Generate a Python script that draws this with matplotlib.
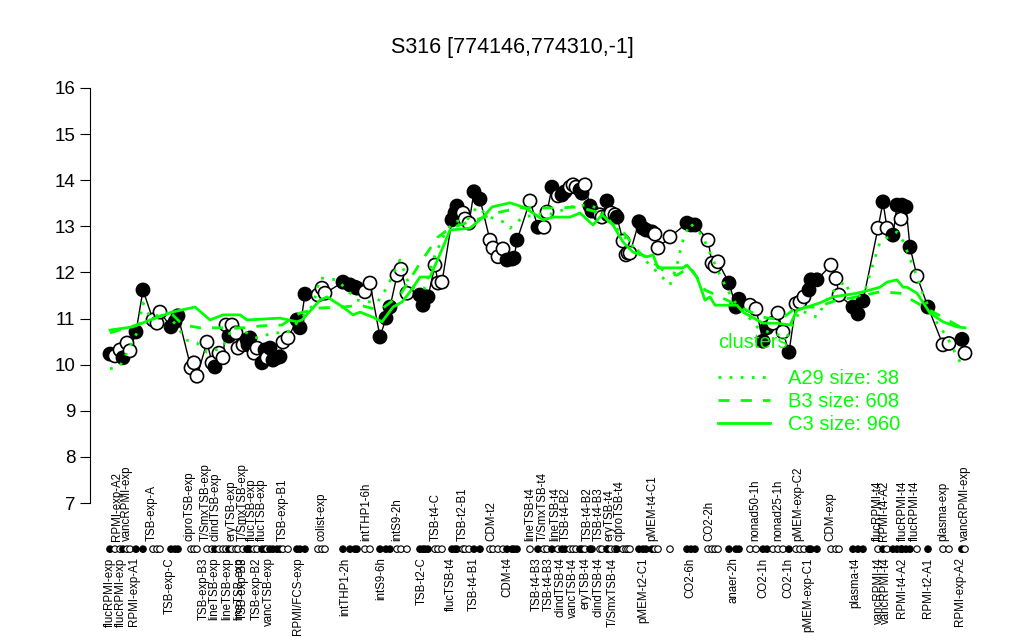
import matplotlib.pyplot as plt
from matplotlib.lines import Line2D

plt.rcParams['font.family'] = ['Liberation Sans', 'DejaVu Sans']

# probe position (arbitrary units along the region) and expression values
pos = [10, 15, 20, 23, 27, 30, 36, 43, 53, 57, 60, 71, 75, 78, 91, 94, 97, 107, 112, 115,
       119, 123, 126, 129, 132, 136, 138, 143, 147, 148, 150, 154, 157, 162, 165, 167, 170, 173, 177, 180,
       183, 188, 197, 200, 205, 218, 222, 225, 243, 250, 255, 257, 265, 270, 280, 286, 290, 297, 301, 307,
       320, 323, 325, 328, 335, 338, 342, 352, 355, 357, 363, 365, 369, 374, 380, 390, 393, 398, 403, 407,
       412, 414, 417, 430, 438, 444, 447, 452, 458, 462, 465, 470, 473, 476, 480, 482, 485, 490, 492, 500,
       502, 507, 508, 511, 515, 517, 523, 526, 528, 530, 539, 543, 546, 552, 555, 558, 570, 587, 591, 595,
       608, 612, 615, 618, 629, 636, 639, 650, 656, 663, 667, 673, 678, 683, 689, 696, 700, 704, 709, 711,
       717, 731, 736, 739, 753, 758, 763, 778, 783, 787, 793, 797, 801, 802, 806, 810, 817, 828, 843, 849,
       862, 865]
expr = [10.23, 10.19, 10.32, 10.15, 10.47, 10.30, 10.71, 11.62, 10.97, 10.90, 11.14, 10.82, 10.93, 11.06, 9.93, 10.04, 9.75, 10.49, 10.04, 9.95,
        10.25, 10.15, 10.86, 10.62, 10.86, 10.69, 10.36, 10.43, 10.54, 10.43, 10.58, 10.25, 10.36, 10.04, 10.32, 10.15, 10.36, 10.10, 10.15, 10.17,
        10.49, 10.58, 10.97, 10.80, 11.53, 11.51, 11.66, 11.55, 11.79, 11.73, 11.68, 11.66, 11.58, 11.77, 10.60, 11.01, 11.25, 11.94, 12.07, 11.55,
        11.51, 11.29, 11.47, 11.47, 12.16, 11.77, 11.79, 13.14, 13.29, 13.44, 13.29, 13.16, 13.07, 13.75, 13.59, 12.70, 12.53, 12.34, 12.51, 12.27,
        12.29, 12.31, 12.70, 13.55, 12.98, 12.98, 13.31, 13.85, 13.66, 13.68, 13.75, 13.85, 13.90, 13.85, 13.79, 13.72, 13.90, 13.44, 13.33, 13.25,
        13.20, 13.55, 13.25, 13.29, 13.25, 13.20, 12.68, 12.38, 12.42, 12.42, 13.10, 12.96, 12.92, 12.88, 12.83, 12.53, 12.77, 13.07, 13.03, 13.03,
        12.70, 12.20, 12.14, 12.23, 11.77, 11.25, 11.42, 11.29, 11.21, 10.51, 10.80, 10.90, 11.12, 10.71, 10.27, 11.32, 11.36, 11.47, 11.62, 11.84,
        11.84, 12.16, 11.87, 11.51, 11.25, 11.10, 11.38, 12.96, 13.53, 12.96, 12.81, 13.46, 13.16, 13.46, 13.42, 12.55, 11.92, 11.25, 10.43, 10.46,
        10.55, 10.25]
# f = filled circle, o = open circle
fill = ("foofooffoo" "offfooooof" "ooofooooff" "fooffoffff" "oofffoooff"
        "ffoofffooo" "ffffooofff" "oooffoooof" "fffofoofof" "foooffoffo"
        "offoofoooo" "ffffooofff" "oooofffoof" "fooofoooff" "fooofffofo"
        "ffofffofoo" "fo")

# cluster mean profiles
a29_x = [10, 20, 37, 43, 50, 67, 87, 97, 107, 122, 133, 147, 157, 173, 187, 200, 213, 220, 237, 257,
         277, 287, 300, 310, 325, 333, 343, 353, 367, 377, 390, 403, 410, 423, 440, 453, 470, 485, 498, 520,
         530, 543, 557, 570, 577, 582, 590, 602, 620, 633, 640, 657, 670, 687, 700, 717, 730, 745, 753, 765,
         773, 780, 797, 803, 813, 823, 833, 847, 860]
a29_y = [9.91, 9.97, 10.69, 11.34, 11.03, 11.12, 10.53, 10.47, 10.27, 10.36, 10.82, 10.69, 10.58, 10.69, 10.69, 10.97, 11.29, 11.88, 11.84, 11.40,
         11.34, 11.68, 12.27, 11.68, 11.66, 12.27, 12.77, 13.10, 13.14, 13.42, 13.20, 13.10, 12.96, 13.20, 13.27, 13.27, 13.42, 13.46, 13.40, 12.88,
         12.64, 12.31, 12.01, 11.73, 12.16, 12.64, 13.07, 12.81, 11.94, 11.40, 11.25, 10.82, 10.69, 10.60, 11.18, 11.03, 11.53, 11.81, 11.38, 11.60,
         12.18, 12.66, 12.88, 12.68, 12.14, 11.53, 11.03, 10.60, 10.06]
b3_x = [10, 43, 70, 83, 100, 147, 160, 182, 200, 220, 243, 260, 280, 300, 320, 338, 350, 370, 400, 420,
        460, 478, 497, 523, 540, 567, 577, 590, 605, 627, 647, 663, 680, 697, 717, 737, 757, 780, 800, 817,
        830, 860]
b3_y = [10.69, 10.90, 11.14, 10.86, 10.80, 10.80, 10.84, 10.86, 11.12, 11.23, 11.25, 11.29, 11.18, 11.51, 12.20, 12.77, 12.96, 13.10, 13.31, 13.40,
        13.40, 13.42, 13.31, 12.88, 12.42, 11.99, 11.94, 12.12, 11.62, 11.40, 11.18, 11.03, 10.97, 11.25, 11.25, 11.40, 11.47, 11.58, 11.55, 11.34,
        11.18, 10.82]
c3_x = [10, 33, 50, 72, 95, 110, 123, 140, 147, 180, 197, 202, 220, 227, 243, 253, 260, 273, 282, 293,
        302, 310, 320, 330, 343, 350, 370, 383, 392, 410, 423, 433, 443, 453, 470, 480, 493, 502, 513, 523,
        533, 547, 553, 558, 583, 587, 597, 605, 610, 615, 637, 643, 663, 677, 690, 697, 720, 733, 757, 770,
        780, 787, 797, 803, 807, 817, 830, 843, 857, 865]
c3_y = [10.75, 10.82, 10.97, 11.14, 11.25, 10.97, 11.08, 11.08, 10.97, 11.01, 10.93, 10.97, 11.40, 11.47, 11.25, 11.08, 11.14, 11.03, 10.93, 11.25,
        11.36, 11.58, 11.90, 11.90, 12.55, 12.92, 12.96, 13.20, 13.42, 13.51, 13.42, 13.29, 13.14, 13.20, 13.20, 13.29, 13.03, 13.25, 13.03, 12.66,
        12.44, 12.34, 12.38, 12.10, 12.10, 12.16, 11.90, 11.40, 11.47, 11.29, 11.29, 11.14, 10.90, 10.90, 10.86, 11.18, 11.34, 11.47, 11.55, 11.62,
        11.68, 11.79, 11.84, 11.68, 11.68, 11.55, 11.12, 10.93, 10.82, 10.80]

top_label_x = [17, 27, 52, 90, 106, 116, 132, 143, 152, 162, 183, 221, 266, 297, 336, 363, 391, 430, 443, 455,
               466, 488, 499, 510, 520, 552, 609, 655, 678, 698, 730, 778, 784, 803, 815, 843, 865]
top_labels = ["RPMI-exp-A2", "vancRPMI-exp", "TSB-exp-A", "ciproTSB-exp", "T/SmxTSB-exp", "clindTSB-exp",
              "eryTSB-exp", "T/SmxTSB-exp", "flucTSB-exp", "flucTSB-exp", "TSB-exp-B1", "colist-exp",
              "intTHP1-6h", "intS9-2h", "TSB-t4-C", "TSB-t2-B1", "CDM-t2", "lineTSB-t4", "T/SmxTSB-t4",
              "lineTSB-t4", "TSB-t4-B2", "TSB-t4-B2", "TSB-t4-B3", "eryTSB-t4", "ciproTSB-t4", "pMEM-t4-C1",
              "CO2-2h", "nonad50-1h", "nonad25-1h", "pMEM-exp-C2", "CDM-exp", "flucRPMI-t4", "RPMI-t4-A2",
              "flucRPMI-t4", "flucRPMI-t4", "plasma-exp", "vancRPMI-exp"]
bottom_label_x = [10, 21, 34, 70, 104, 114, 127, 139, 143, 157, 169, 198, 245, 281, 322, 351, 374, 407, 437, 449,
                  460, 473, 486, 499, 513, 543, 590, 634, 663, 688, 708, 755, 779, 786, 802, 828, 860]
bottom_labels = ["flucRPMI-exp", "flucRPMI-exp", "RPMI-exp-A1", "TSB-exp-C", "TSB-exp-B3", "lineTSB-exp",
                 "lineTSB-exp", "lineTSB-exp", "TSB-exp-B3", "TSB-exp-B2", "vancTSB-exp", "RPMI/FCS-exp",
                 "intTHP1-2h", "intS9-6h", "TSB-t2-C", "flucTSB-t4", "TSB-t4-B1", "CDM-t4", "TSB-t4-B3",
                 "TSB-t4-B3", "clindTSB-t4", "vancTSB-t4", "eryTSB-t4", "clindTSB-t4", "T/SmxTSB-t4",
                 "pMEM-t2-C1", "CO2-6h", "anaer-2h", "CO2-1h", "CO2-1h", "pMEM-exp-C1", "plasma-t4",
                 "vancRPMI-t4", "vancRPMI-t4", "RPMI-t4-A2", "RPMI-t2-A1", "RPMI-exp-A2"]

green = '#00ff00'

fig = plt.figure(figsize=(10.24, 6.4), dpi=100)
ax = fig.add_axes([90 / 1024, 0.0, 895 / 1024, 570 / 640])
ax.set_xlim(-10, 885)
ax.set_ylim(4.03, 16.39)

# expression line and points
ax.plot(pos, expr, color='black', lw=1, zorder=2)
faces = ['black' if c == 'f' else 'white' for c in fill]
ax.scatter(pos, expr, s=90, facecolors=faces, edgecolors='black', linewidths=1.2, zorder=3)

# cluster profiles
ax.plot(a29_x, a29_y, color=green, lw=2, linestyle=(0, (1, 3)), zorder=4)
ax.plot(b3_x, b3_y, color=green, lw=2, linestyle=(0, (4, 4)), zorder=4)
ax.plot(c3_x, c3_y, color=green, lw=2, linestyle='-', zorder=4)

# rug of samples
rug_y = 6.0
ax.scatter(pos, [rug_y] * len(pos), s=22, facecolors=faces, edgecolors='black', linewidths=0.8, zorder=3)
for x, lab in zip(top_label_x, top_labels):
    ax.text(x, rug_y + 0.18, lab, rotation=90, ha='center', va='bottom', fontsize=8.3)
for x, lab in zip(bottom_label_x, bottom_labels):
    ax.text(x, rug_y - 0.18, lab, rotation=90, ha='center', va='top', fontsize=8.3)

# axes styling
for s in ['top', 'right', 'bottom']:
    ax.spines[s].set_visible(False)
ax.spines['left'].set_bounds(7, 16)
ax.set_yticks(range(7, 17))
ax.tick_params(axis='y', labelsize=13.5, length=7)
ax.set_xticks([])

fig.text(0.5, 1 - 47 / 640, "S316 [774146,774310,-1]", ha='center', va='center', fontsize=15.5)

# legend
fig.text(718 / 1024, 1 - 342 / 640, "clusters", color=green, fontsize=14.5, ha='left', va='center')
handles = [Line2D([], [], color=green, lw=2, linestyle=(0, (1, 3))),
           Line2D([], [], color=green, lw=2, linestyle=(0, (4, 4))),
           Line2D([], [], color=green, lw=2, linestyle='-')]
ax.legend(handles, ["A29 size: 38", "B3 size: 608", "C3 size: 960"],
          loc='upper left', bbox_to_anchor=(718 / 1024, 1 - 369 / 640), bbox_transform=fig.transFigure,
          frameon=False, fontsize=14.5, labelcolor=green, handlelength=2.6,
          handletextpad=0.9, labelspacing=0.2, borderpad=0, borderaxespad=0)

fig.savefig('out.png', dpi=100)
